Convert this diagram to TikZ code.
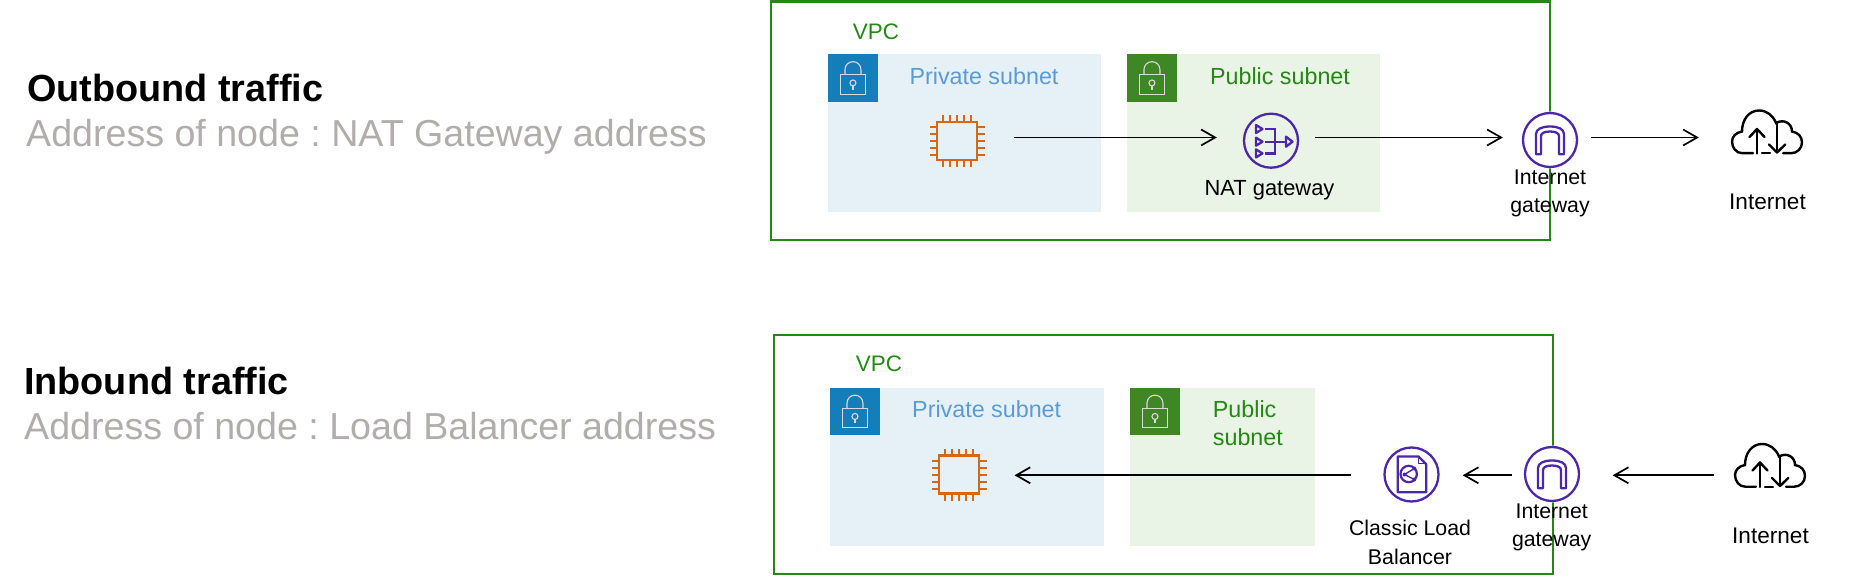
\documentclass[tikz,border=0pt]{standalone}
\usepackage{fontspec}
\setmainfont{Liberation Sans}
\usepackage{tikz}
\usetikzlibrary{arrows.meta}
\frenchspacing

\definecolor{vpcgreen}{HTML}{248814}
\definecolor{privfill}{HTML}{E6F0F7}
\definecolor{privlock}{HTML}{147EBA}
\definecolor{privtext}{HTML}{5A9BD5}
\definecolor{pubfill}{HTML}{E9F3E6}
\definecolor{publock}{HTML}{3F8624}
\definecolor{iconpurple}{HTML}{4D27AA}
\definecolor{chiporange}{HTML}{D86613}
\definecolor{subgray}{HTML}{B0ADAC}

\tikzset{
  vpcbox/.style={draw=vpcgreen,line width=2.2pt},
  privsubnet/.style={fill=privfill,anchor=north west,inner sep=0pt},
  pubsubnet/.style={fill=pubfill,anchor=north west,inner sep=0pt},
  privtag/.style={fill=privlock,anchor=north west,inner sep=0pt,minimum width=49.5pt,minimum height=47.5pt},
  pubtag/.style={fill=publock,anchor=north west,inner sep=0pt,minimum width=49.5pt,minimum height=47.5pt},
  spot/.style={circle,inner sep=0pt,minimum size=54pt},
  flow/.style={draw=black,line width=1.7pt,-{Straight Barb[length=14pt,width=16pt,line width=1.7pt]}},
  title/.style={anchor=west,inner sep=0pt,font=\fontsize{37.8}{40}\selectfont\bfseries},
  subtitle/.style={anchor=west,inner sep=0pt,text=subgray,font=\fontsize{37.6}{40}\selectfont},
  vpclabel/.style={inner sep=0pt,text=vpcgreen,font=\fontsize{22.4}{28}\selectfont},
  privlabel/.style={inner sep=0pt,text=privtext,font=\fontsize{23.3}{28}\selectfont},
  publabel/.style={inner sep=0pt,text=vpcgreen,font=\fontsize{23.3}{28}\selectfont},
  iconlabel/.style={inner sep=0pt,align=center,font=\fontsize{21.3}{28.5}\selectfont},
  netlabel/.style={inner sep=0pt,font=\fontsize{22.6}{28}\selectfont},
  lock/.pic={
    \draw[white!85!black,line width=1.1pt] (-12.7,-3) rectangle (12.7,16.3);
    \draw[white!85!black,line width=1.1pt] (-8,-3) -- (-8,-8.3) arc[start angle=180,end angle=360,radius=8] -- (8,-3);
    \draw[white!85!black,line width=1.1pt] (0,5) circle (3);
    \draw[white!85!black,line width=1.1pt] (0,8) -- (0,12);
  },
  chip/.pic={
    \draw[chiporange,line width=2.2pt] (-20,-19) rectangle (20,19);
    \foreach \p in {-14,-7,0,7,14} {
      \draw[chiporange,line width=2pt] (\p,-19) -- (\p,-26);
      \draw[chiporange,line width=2pt] (\p,19) -- (\p,26);
      \draw[chiporange,line width=2pt] (-20,\p) -- (-27.5,\p);
      \draw[chiporange,line width=2pt] (20,\p) -- (27.5,\p);
    }
  },
  natgw/.pic={
    \draw[iconpurple,line width=2.3pt] (0,0) circle (27);
    \foreach \q in {-11.7,1,12.7} {
      \draw[iconpurple,line width=2.3pt,line join=round] (-15,\q-4) -- (-8.5,\q) -- (-15,\q+4) -- cycle;
    }
    \draw[iconpurple,line width=2.3pt] (-6,-11.7) -- (4,-11.7) -- (4,12.7) -- (-6,12.7);
    \draw[iconpurple,line width=2.3pt] (-6,1) -- (15,1);
    \draw[iconpurple,line width=2.3pt,line join=round] (15,-4) -- (21.5,1) -- (15,6) -- cycle;
  },
  inetgw/.pic={
    \fill[white] (0,0) circle (28.5);
    \draw[iconpurple,line width=2.3pt] (0,0) circle (27);
    \draw[iconpurple,line width=2.3pt,line join=round] (-14,14.3) -- (-14,-6)
      .. controls (-14,-11) and (-8,-13.5) .. (0,-13.5)
      .. controls (8,-13.5) and (14,-11) .. (14,-6) -- (14,14.3) -- (9,14.3) -- (9,-4)
      .. controls (9,-7) and (5,-8.5) .. (0,-8.5)
      .. controls (-5,-8.5) and (-9,-7) .. (-9,-4) -- (-9,14.3) -- cycle;
  },
  classiclb/.pic={
    \draw[iconpurple,line width=2.3pt] (0,0) circle (27);
    \draw[iconpurple,line width=2.3pt,line join=round] (-13.7,-18) -- (7,-18) -- (14.7,-10.3) -- (14.7,17.7) -- (-13.7,17.7) -- cycle;
    \draw[iconpurple,line width=1.2pt] (7,-18) -- (7,-11) -- (14.7,-11);
    \draw[iconpurple,line width=2.2pt] (-2.8,-0.5) circle (8.2);
    \draw[iconpurple,line width=1.4pt] (2.8,-6) -- (-7,0) -- (2.8,5);
    \foreach \q/\r in {2.8/-6,-7/0,2.8/5} {
      \fill[iconpurple] (\q,\r) circle (2);
    }
  },
  cloudicon/.pic={
    \draw[black,line width=2.4pt,line cap=round] (-14,20.7) -- (-24.7,20.7)
      .. controls (-31,20.7) and (-35,15) .. (-35,9)
      .. controls (-35,4) and (-31,0) .. (-25,-1)
      .. controls (-25,-13) and (-18,-22) .. (-8,-22)
      .. controls (0,-22) and (6,-17) .. (9,-9.5)
      .. controls (17,-14) and (25,-9) .. (25,-1)
      .. controls (31,0) and (35,4) .. (35,10)
      .. controls (35,16) and (30,20.7) .. (24.3,20.7) -- (16,20.7);
    \draw[black,line width=2.4pt,line cap=round] (-5,20.7) -- (3,20.7);
    \draw[black,line width=2.4pt,line cap=round,line join=round] (-10,21) -- (-10,-3.5);
    \draw[black,line width=2.4pt,line cap=round,line join=round] (-17.5,4.5) -- (-10,-3.5) -- (-2.5,4.5);
    \draw[black,line width=2.4pt,line cap=round,line join=round] (10,-10) -- (10,20);
    \draw[black,line width=2.4pt,line cap=round,line join=round] (2,12) -- (10,20) -- (18.3,12);
  }
}

\begin{document}
\begin{tikzpicture}[x=1pt,y=-1pt]
\useasboundingbox (0,0) rectangle (1856,583);

% outbound
\node[title] (outtitle) at (27,87.5) {Outbound traffic};
\node[subtitle] (outsub) at (26,136.5) {Address of node : NAT Gateway address};

\draw[vpcbox] (770.7,1.5) rectangle (1550,240);
\node[vpclabel] (outvpc) at (876,32) {VPC};
\node[privsubnet,minimum width=273pt,minimum height=158pt] (outpriv) at (828,54) {};
\node[pubsubnet,minimum width=253pt,minimum height=158pt] (outpub) at (1127,54) {};
\node[privtag] (outprivtag) at (828,54) {};
\node[pubtag] (outpubtag) at (1127,54) {};
\pic at (outprivtag.center) {lock};
\pic at (outpubtag.center) {lock};
\node[privlabel] (outprivname) at (984,75.8) {Private subnet};
\node[publabel] (outpubname) at (1280,75.8) {Public subnet};

\pic at (957,141) {chip};
\pic at (1271,140.7) {natgw};
\pic at (1550,140) {inetgw};
\pic at (1767,132.5) {cloudicon};
\node[spot] (outchip) at (957,137.5) {};
\node[spot] (outnat) at (1271,137.5) {};
\node[spot] (outigw) at (1550,137.5) {};
\node[spot] (outnet) at (1767,137.5) {};
\node[iconlabel,font=\fontsize{21.9}{28}\selectfont] (outnatname) at (1269.5,190) {NAT gateway};
\node[iconlabel] (outigwname) at (1550,193.5) {Internet\\gateway};
\node[netlabel] (outnetname) at (1767.5,201.5) {Internet};

\draw[flow,shorten <=30pt,shorten >=27pt] (outchip) -- (outnat);
\draw[flow,shorten <=17pt,shorten >=20pt] (outnat) -- (outigw);
\draw[flow,shorten <=14pt,shorten >=41pt] (outigw) -- (outnet);

% inbound
\node[title] (intitle) at (24,381) {Inbound traffic};
\node[subtitle] (insub) at (24,426) {Address of node : Load Balancer address};

\draw[vpcbox] (773.7,335.3) rectangle (1552.7,574.3);
\node[vpclabel] (invpc) at (879,364) {VPC};
\node[privsubnet,minimum width=274pt,minimum height=158pt] (inpriv) at (830,387.5) {};
\node[pubsubnet,minimum width=185pt,minimum height=158pt] (inpub) at (1130,387.5) {};
\node[privtag] (inprivtag) at (830,387.5) {};
\node[pubtag] (inpubtag) at (1130,387.5) {};
\pic at (inprivtag.center) {lock};
\pic at (inpubtag.center) {lock};
\node[privlabel] (inprivname) at (986.7,409) {Private subnet};
\node[publabel,align=left,anchor=west] (inpubname) at (1212.7,423) {Public\\subnet};

\pic at (959.3,474.5) {chip};
\pic at (1411.5,474.5) {classiclb};
\pic at (1552,474) {inetgw};
\pic at (1770,466) {cloudicon};
\node[spot] (inchip) at (959.3,475.3) {};
\node[spot] (inelb) at (1411.5,475.3) {};
\node[spot] (inigw) at (1552,475.3) {};
\node[spot] (innet) at (1770,475.3) {};
\node[iconlabel] (inelbname) at (1410,542.5) {Classic Load\\Balancer};
\node[iconlabel] (inigwname) at (1551.7,527.5) {Internet\\gateway};
\node[netlabel] (innetname) at (1770.5,535.5) {Internet};

\draw[flow,shorten <=29pt,shorten >=33.5pt] (innet) -- (inigw);
\draw[flow,shorten <=13pt,shorten >=24pt] (inigw) -- (inelb);
\draw[flow,shorten <=33pt,shorten >=28pt] (inelb) -- (inchip);
\end{tikzpicture}
\end{document}
